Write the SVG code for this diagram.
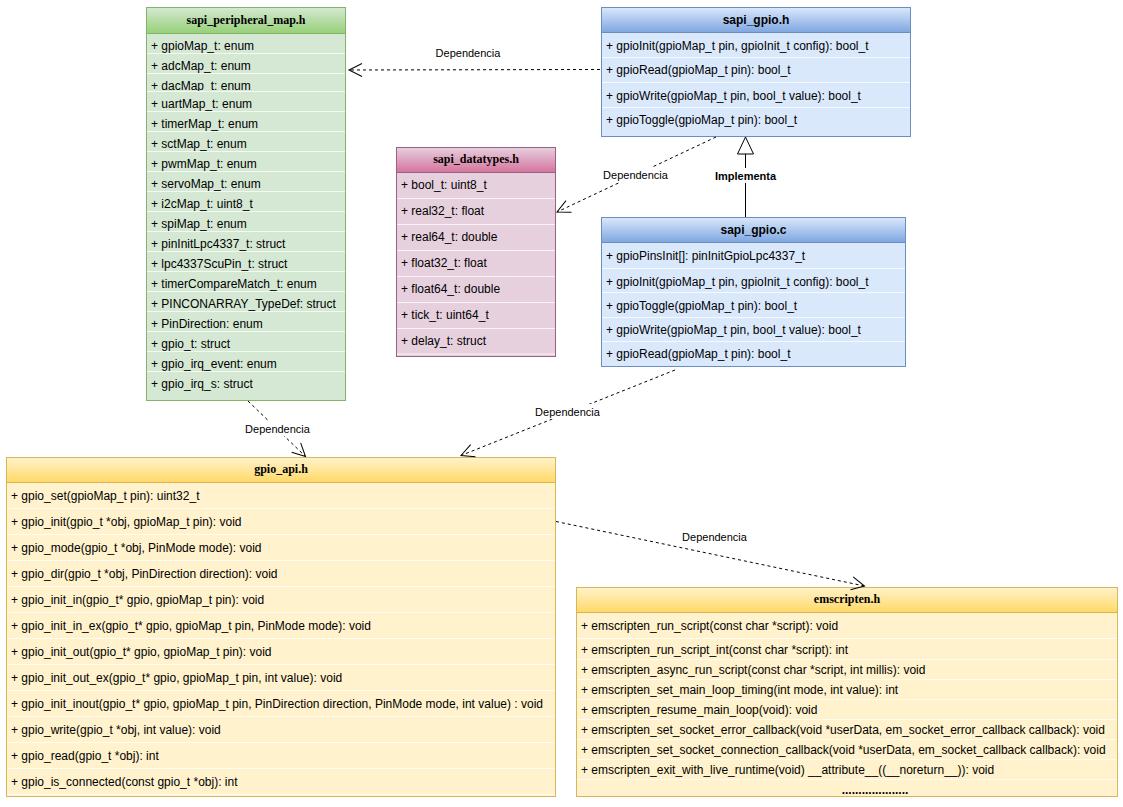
<svg xmlns="http://www.w3.org/2000/svg" width="1123" height="807" viewBox="0 0 1123 807">
  <defs>
    <linearGradient id="gGreen" x1="0" y1="0" x2="0" y2="1">
      <stop offset="0" stop-color="#d5e8d4"/>
      <stop offset="1" stop-color="#97d077"/>
    </linearGradient>
    <linearGradient id="gBlue" x1="0" y1="0" x2="0" y2="1">
      <stop offset="0" stop-color="#dae8fc"/>
      <stop offset="1" stop-color="#7ea6e0"/>
    </linearGradient>
    <linearGradient id="gPink" x1="0" y1="0" x2="0" y2="1">
      <stop offset="0" stop-color="#e6d0de"/>
      <stop offset="1" stop-color="#d5739d"/>
    </linearGradient>
    <linearGradient id="gYellow" x1="0" y1="0" x2="0" y2="1">
      <stop offset="0" stop-color="#fff2cc"/>
      <stop offset="1" stop-color="#ffd966"/>
    </linearGradient>
    <marker id="openArrow" markerUnits="userSpaceOnUse" markerWidth="20" markerHeight="20" viewBox="-15 -10 20 20" refX="0" refY="0" orient="auto">
      <path d="M-13,-6.5 L0,0 L-13,6.5" fill="none" stroke="#000" stroke-width="1"/>
    </marker>
    <style>
      text { font-family: "Liberation Sans", Arial, sans-serif; font-size: 12px; fill: #000; }
      .row { font-size: 12px; }
      .hdr-serif { font-family: "Liberation Serif", "Times New Roman", serif; font-weight: bold; font-size: 12px; text-anchor: middle; }
      .hdr-sans { font-weight: bold; font-size: 12px; text-anchor: middle; }
      .lbl { font-size: 11px; text-anchor: middle; fill: #000; }
      .lbl-b { font-size: 11px; font-weight: bold; text-anchor: middle; fill: #000; }
      .sep { stroke: #ffffff; stroke-opacity: 0.75; stroke-width: 1; }
      .green { fill: #d5e8d4; stroke: #82b366; }
      .blue { fill: #dae8fc; stroke: #6c8ebf; }
      .pink { fill: #e6d0de; stroke: #996185; }
      .yellow { fill: #fff2cc; stroke: #d6b656; }
      .dash { fill: none; stroke: #000; stroke-width: 1; stroke-dasharray: 3 3; }
      .solid { fill: none; stroke: #000; stroke-width: 1; }
    </style>
  </defs>

  <rect width="1123" height="807" fill="#ffffff"/>

  <!-- sapi_peripheral_map.h -->
  <g id="sapi_peripheral_map">
    <rect class="green" x="146.5" y="7.5" width="199" height="393"/>
    <rect x="146.5" y="7.5" width="199" height="26" fill="url(#gGreen)" stroke="#82b366"/>
    <text class="hdr-serif" x="246" y="24">sapi_peripheral_map.h</text>
    <text class="row" x="151" y="49.5">+ gpioMap_t: enum</text>
    <line class="sep" x1="147" y1="53.5" x2="345" y2="53.5"/>
    <text class="row" x="151" y="69.5">+ adcMap_t: enum</text>
    <line class="sep" x1="147" y1="73.5" x2="345" y2="73.5"/>
    <text class="row" x="151" y="89.5">+ dacMap_t: enum</text>
    <rect x="147" y="91" width="198" height="20" fill="#d5e8d4"/>
    <line class="sep" x1="147" y1="91.5" x2="345" y2="91.5"/>
    <text class="row" x="151" y="107.5">+ uartMap_t: enum</text>
    <line class="sep" x1="147" y1="111.5" x2="345" y2="111.5"/>
    <text class="row" x="151" y="127.5">+ timerMap_t: enum</text>
    <line class="sep" x1="147" y1="131.5" x2="345" y2="131.5"/>
    <text class="row" x="151" y="147.5">+ sctMap_t: enum</text>
    <line class="sep" x1="147" y1="151.5" x2="345" y2="151.5"/>
    <text class="row" x="151" y="167.5">+ pwmMap_t: enum</text>
    <line class="sep" x1="147" y1="171.5" x2="345" y2="171.5"/>
    <text class="row" x="151" y="187.5">+ servoMap_t: enum</text>
    <line class="sep" x1="147" y1="191.5" x2="345" y2="191.5"/>
    <text class="row" x="151" y="207.5">+ i2cMap_t: uint8_t</text>
    <line class="sep" x1="147" y1="211.5" x2="345" y2="211.5"/>
    <text class="row" x="151" y="227.5">+ spiMap_t: enum</text>
    <line class="sep" x1="147" y1="231.5" x2="345" y2="231.5"/>
    <text class="row" x="151" y="247.5">+ pinInitLpc4337_t: struct</text>
    <line class="sep" x1="147" y1="251.5" x2="345" y2="251.5"/>
    <text class="row" x="151" y="267.5">+ lpc4337ScuPin_t: struct</text>
    <line class="sep" x1="147" y1="271.5" x2="345" y2="271.5"/>
    <text class="row" x="151" y="287.5">+ timerCompareMatch_t: enum</text>
    <line class="sep" x1="147" y1="291.5" x2="345" y2="291.5"/>
    <text class="row" x="151" y="307.5">+ PINCONARRAY_TypeDef: struct</text>
    <line class="sep" x1="147" y1="311.5" x2="345" y2="311.5"/>
    <text class="row" x="151" y="327.5">+ PinDirection: enum</text>
    <line class="sep" x1="147" y1="331.5" x2="345" y2="331.5"/>
    <text class="row" x="151" y="347.5">+ gpio_t: struct</text>
    <line class="sep" x1="147" y1="351.5" x2="345" y2="351.5"/>
    <text class="row" x="151" y="367.5">+ gpio_irq_event: enum</text>
    <line class="sep" x1="147" y1="371.5" x2="345" y2="371.5"/>
    <text class="row" x="151" y="387.5">+ gpio_irq_s: struct</text>
  </g>

  <!-- sapi_gpio.h -->
  <g id="sapi_gpio_h">
    <rect class="blue" x="601.5" y="7.5" width="309" height="129"/>
    <rect x="601.5" y="7.5" width="309" height="25" fill="url(#gBlue)" stroke="#6c8ebf"/>
    <text class="hdr-sans" x="756" y="23.5">sapi_gpio.h</text>
    <text class="row" x="606" y="49.5">+ gpioInit(gpioMap_t pin, gpioInit_t config): bool_t</text>
    <line class="sep" x1="602" y1="57.5" x2="910" y2="57.5"/>
    <text class="row" x="606" y="74">+ gpioRead(gpioMap_t pin): bool_t</text>
    <line class="sep" x1="602" y1="82.5" x2="910" y2="82.5"/>
    <text class="row" x="606" y="99.5">+ gpioWrite(gpioMap_t pin, bool_t value): bool_t</text>
    <line class="sep" x1="602" y1="107.5" x2="910" y2="107.5"/>
    <text class="row" x="606" y="124">+ gpioToggle(gpioMap_t pin): bool_t</text>
  </g>

  <!-- sapi_datatypes.h -->
  <g id="sapi_datatypes">
    <rect class="pink" x="396.5" y="147.5" width="159" height="209"/>
    <rect x="396.5" y="147.5" width="159" height="25" fill="url(#gPink)" stroke="#996185"/>
    <text class="hdr-serif" x="476" y="163">sapi_datatypes.h</text>
    <text class="row" x="401" y="189">+ bool_t: uint8_t</text>
    <line class="sep" x1="397" y1="198.5" x2="555" y2="198.5"/>
    <text class="row" x="401" y="215">+ real32_t: float</text>
    <line class="sep" x1="397" y1="224.5" x2="555" y2="224.5"/>
    <text class="row" x="401" y="241">+ real64_t: double</text>
    <line class="sep" x1="397" y1="250.5" x2="555" y2="250.5"/>
    <text class="row" x="401" y="267">+ float32_t: float</text>
    <line class="sep" x1="397" y1="276.5" x2="555" y2="276.5"/>
    <text class="row" x="401" y="293">+ float64_t: double</text>
    <line class="sep" x1="397" y1="302.5" x2="555" y2="302.5"/>
    <text class="row" x="401" y="319">+ tick_t: uint64_t</text>
    <line class="sep" x1="397" y1="328.5" x2="555" y2="328.5"/>
    <text class="row" x="401" y="345">+ delay_t: struct</text>
    <line class="sep" x1="397" y1="354" x2="555" y2="354"/>
  </g>

  <!-- sapi_gpio.c -->
  <g id="sapi_gpio_c">
    <rect class="blue" x="601.5" y="217.5" width="304" height="149"/>
    <rect x="601.5" y="217.5" width="304" height="25" fill="url(#gBlue)" stroke="#6c8ebf"/>
    <text class="hdr-sans" x="753.5" y="233.5">sapi_gpio.c</text>
    <text class="row" x="606" y="259.5">+ gpioPinsInit[]: pinInitGpioLpc4337_t</text>
    <line class="sep" x1="602" y1="268.5" x2="905" y2="268.5"/>
    <text class="row" x="606" y="285.5">+ gpioInit(gpioMap_t pin, gpioInit_t config): bool_t</text>
    <line class="sep" x1="602" y1="292.5" x2="905" y2="292.5"/>
    <text class="row" x="606" y="309.5">+ gpioToggle(gpioMap_t pin): bool_t</text>
    <line class="sep" x1="602" y1="317.5" x2="905" y2="317.5"/>
    <text class="row" x="606" y="333.5">+ gpioWrite(gpioMap_t pin, bool_t value): bool_t</text>
    <line class="sep" x1="602" y1="341.5" x2="905" y2="341.5"/>
    <text class="row" x="606" y="357.5">+ gpioRead(gpioMap_t pin): bool_t</text>
  </g>

  <!-- gpio_api.h -->
  <g id="gpio_api">
    <rect class="yellow" x="6.5" y="457.5" width="549" height="339"/>
    <rect x="6.5" y="457.5" width="549" height="25" fill="url(#gYellow)" stroke="#d6b656"/>
    <text class="hdr-serif" x="281" y="473">gpio_api.h</text>
    <text class="row" x="11" y="499.5">+ gpio_set(gpioMap_t pin): uint32_t</text>
    <line class="sep" x1="7" y1="508.5" x2="555" y2="508.5"/>
    <text class="row" x="11" y="525.5">+ gpio_init(gpio_t *obj, gpioMap_t pin): void</text>
    <line class="sep" x1="7" y1="534.5" x2="555" y2="534.5"/>
    <text class="row" x="11" y="551.5">+ gpio_mode(gpio_t *obj, PinMode mode): void</text>
    <line class="sep" x1="7" y1="560.5" x2="555" y2="560.5"/>
    <text class="row" x="11" y="577.5">+ gpio_dir(gpio_t *obj, PinDirection direction): void</text>
    <line class="sep" x1="7" y1="586.5" x2="555" y2="586.5"/>
    <text class="row" x="11" y="603.5">+ gpio_init_in(gpio_t* gpio, gpioMap_t pin): void</text>
    <line class="sep" x1="7" y1="612.5" x2="555" y2="612.5"/>
    <text class="row" x="11" y="629.5">+ gpio_init_in_ex(gpio_t* gpio, gpioMap_t pin, PinMode mode): void</text>
    <line class="sep" x1="7" y1="638.5" x2="555" y2="638.5"/>
    <text class="row" x="11" y="655.5">+ gpio_init_out(gpio_t* gpio, gpioMap_t pin): void</text>
    <line class="sep" x1="7" y1="664.5" x2="555" y2="664.5"/>
    <text class="row" x="11" y="681.5">+ gpio_init_out_ex(gpio_t* gpio, gpioMap_t pin, int value): void</text>
    <line class="sep" x1="7" y1="690.5" x2="555" y2="690.5"/>
    <text class="row" x="11" y="707.5">+ gpio_init_inout(gpio_t* gpio, gpioMap_t pin, PinDirection direction, PinMode mode, int value) : void</text>
    <line class="sep" x1="7" y1="716.5" x2="555" y2="716.5"/>
    <text class="row" x="11" y="733.5">+ gpio_write(gpio_t *obj, int value): void</text>
    <line class="sep" x1="7" y1="742.5" x2="555" y2="742.5"/>
    <text class="row" x="11" y="759.5">+ gpio_read(gpio_t *obj): int</text>
    <line class="sep" x1="7" y1="768.5" x2="555" y2="768.5"/>
    <text class="row" x="11" y="785.5">+ gpio_is_connected(const gpio_t *obj): int</text>
    <line class="sep" x1="7" y1="794.5" x2="555" y2="794.5"/>
  </g>

  <!-- emscripten.h -->
  <g id="emscripten">
    <rect class="yellow" x="576.5" y="587.5" width="541" height="209"/>
    <rect x="576.5" y="587.5" width="541" height="25" fill="url(#gYellow)" stroke="#d6b656"/>
    <text class="hdr-serif" x="847" y="603">emscripten.h</text>
    <text class="row" x="581" y="629.5">+ emscripten_run_script(const char *script): void</text>
    <line class="sep" x1="577" y1="638.5" x2="1117" y2="638.5"/>
    <text class="row" x="581" y="653.5">+ emscripten_run_script_int(const char *script): int</text>
    <line class="sep" x1="577" y1="659.5" x2="1117" y2="659.5"/>
    <text class="row" x="581" y="673.5">+ emscripten_async_run_script(const char *script, int millis): void</text>
    <line class="sep" x1="577" y1="679.5" x2="1117" y2="679.5"/>
    <text class="row" x="581" y="693.5">+ emscripten_set_main_loop_timing(int mode, int value): int</text>
    <line class="sep" x1="577" y1="699.5" x2="1117" y2="699.5"/>
    <text class="row" x="581" y="713.5">+ emscripten_resume_main_loop(void): void</text>
    <line class="sep" x1="577" y1="719.5" x2="1117" y2="719.5"/>
    <text class="row" x="581" y="733.5">+ emscripten_set_socket_error_callback(void *userData, em_socket_error_callback callback): void</text>
    <line class="sep" x1="577" y1="739.5" x2="1117" y2="739.5"/>
    <text class="row" x="581" y="753.5">+ emscripten_set_socket_connection_callback(void *userData, em_socket_callback callback): void</text>
    <line class="sep" x1="577" y1="759.5" x2="1117" y2="759.5"/>
    <text class="row" x="581" y="773.5">+ emscripten_exit_with_live_runtime(void) __attribute__((__noreturn__)): void</text>
    <line class="sep" x1="577" y1="779.5" x2="1117" y2="779.5"/>
    <text class="hdr-sans" x="875" y="794">....................</text>
  </g>

  <!-- connectors -->
  <g id="connectors">
    <!-- sapi_gpio.h depends on sapi_peripheral_map.h -->
    <line class="dash" x1="600" y1="69.5" x2="349" y2="70" marker-end="url(#openArrow)"/>
    <text class="lbl" x="468" y="57">Dependencia</text>

    <!-- sapi_gpio.h depends on sapi_datatypes.h -->
    <line class="dash" x1="716" y1="137" x2="557" y2="212" marker-end="url(#openArrow)"/>
    <rect x="602" y="167" width="67" height="15" fill="#ffffff"/>
    <text class="lbl" x="635.5" y="179">Dependencia</text>

    <!-- sapi_gpio.c implements sapi_gpio.h -->
    <line class="solid" x1="745.5" y1="217" x2="745.5" y2="154"/>
    <polygon points="745.5,137 737.5,154 753.5,154" fill="#ffffff" stroke="#000" stroke-width="1"/>
    <rect x="713" y="168" width="65" height="15" fill="#ffffff"/>
    <text class="lbl-b" x="745.5" y="180">Implementa</text>

    <!-- sapi_peripheral_map.h used by gpio_api.h -->
    <line class="dash" x1="248" y1="401" x2="305.5" y2="456.5" marker-end="url(#openArrow)"/>
    <rect x="244" y="421" width="67" height="15" fill="#ffffff"/>
    <text class="lbl" x="277.5" y="433">Dependencia</text>

    <!-- sapi_gpio.c used by gpio_api.h -->
    <line class="dash" x1="675" y1="370" x2="461" y2="455.5" marker-end="url(#openArrow)"/>
    <rect x="534" y="404" width="67" height="15" fill="#ffffff"/>
    <text class="lbl" x="567.5" y="416">Dependencia</text>

    <!-- gpio_api.h depends on emscripten.h -->
    <line class="dash" x1="556" y1="521.5" x2="864.5" y2="586" marker-end="url(#openArrow)"/>
    <text class="lbl" x="714.5" y="541">Dependencia</text>
  </g>
</svg>
